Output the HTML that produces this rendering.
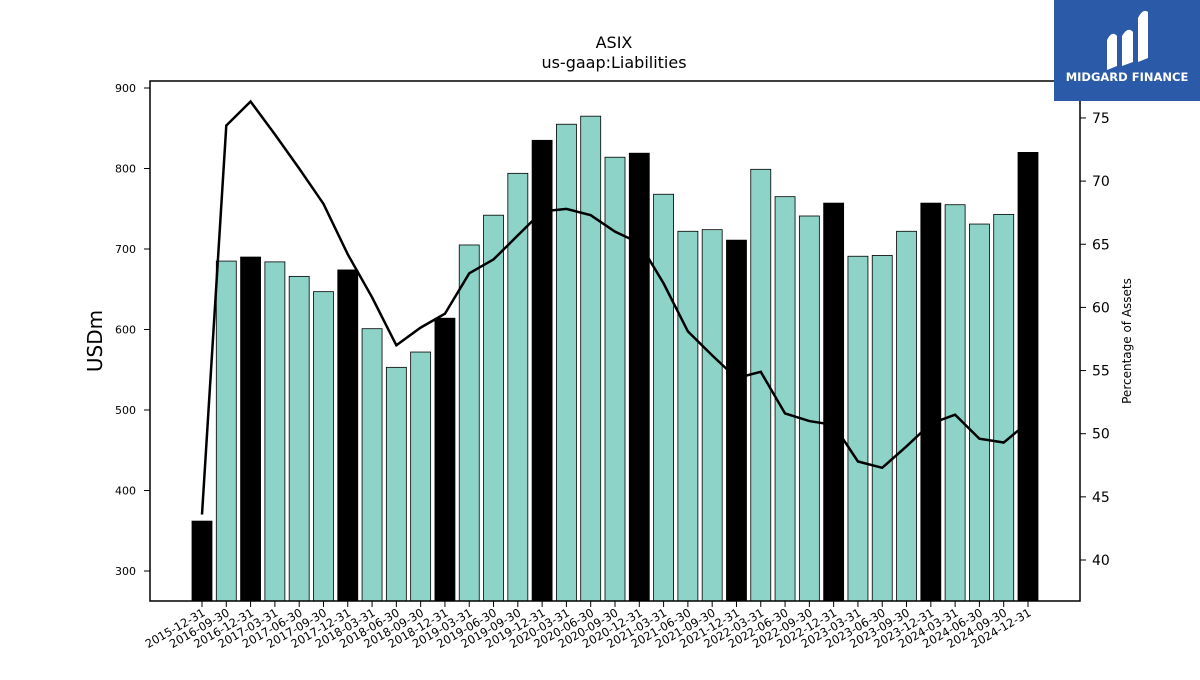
<!DOCTYPE html>
<html><head><meta charset="utf-8"><style>
body{margin:0;background:#fff;font-family:"Liberation Sans","DejaVu Sans",sans-serif}
</style></head><body>
<svg id="chart" width="1200" height="675" xmlns="http://www.w3.org/2000/svg" font-family="DejaVu Sans, Liberation Sans, sans-serif">
<text x="614" y="48" font-size="16" text-anchor="middle">ASIX</text>
<text x="614" y="68" font-size="16" text-anchor="middle">us-gaap:Liabilities</text>
<g id="bars"></g>
<g id="line"></g>
<rect x="150" y="81" width="930" height="520" fill="none" stroke="#000" stroke-width="1.5"/>
<g id="laxis"></g>
<g id="raxis"></g>
<g id="xaxis"></g>
<text transform="translate(102,341) rotate(-90)" font-size="20" text-anchor="middle">USDm</text>
<text transform="translate(1131,341) rotate(-90)" font-size="12" text-anchor="middle">Percentage of Assets</text>
<g>
<rect x="1054" y="0" width="146" height="101" fill="#2b5aa8"/>
<path d="M1107 70 L1107 40 Q1112 30 1117 36 L1117 66 Z M1122 66 L1122 36 Q1128 26 1133 32 L1133 62 Z M1138 62 L1138 18 Q1143 8 1148 12 L1148 58 Z" fill="#fff"/>
<text x="1127" y="81" font-size="11.5" font-weight="bold" fill="#fff" text-anchor="middle">MIDGARD FINANCE</text>
</g>
</svg>
<script>
const dates=["2015-12-31","2016-09-30","2016-12-31","2017-03-31","2017-06-30","2017-09-30","2017-12-31","2018-03-31","2018-06-30","2018-09-30","2018-12-31","2019-03-31","2019-06-30","2019-09-30","2019-12-31","2020-03-31","2020-06-30","2020-09-30","2020-12-31","2021-03-31","2021-06-30","2021-09-30","2021-12-31","2022-03-31","2022-06-30","2022-09-30","2022-12-31","2023-03-31","2023-06-30","2023-09-30","2023-12-31","2024-03-31","2024-06-30","2024-09-30","2024-12-31"];
const liabilities=[362,685,690,684,666,647,674,601,553,572,614,705,742,794,835,855,865,814,819,768,722,724,711,799,765,741,757,691,692,722,757,755,731,743,820];
const pctAssets=[43.6,74.4,76.3,73.7,71.0,68.2,64.2,60.8,57.0,58.4,59.5,62.7,63.8,65.7,67.6,67.8,67.3,66.0,65.1,61.9,58.1,56.2,54.4,54.9,51.6,51.0,50.7,47.8,47.3,49.0,50.8,51.5,49.6,49.3,50.9];
const leftTicks=[300,400,500,600,700,800,900];
const rightTicks=[40,45,50,55,60,65,70,75];
const NS="http://www.w3.org/2000/svg";
const yL=v=>571-(v-300)*0.805;
const yR=p=>560-(p-40)*12.63;
const xB=i=>202+i*(1028-202)/34;
function mk(t,a,p){const e=document.createElementNS(NS,t);for(const k in a)e.setAttribute(k,a[k]);p.appendChild(e);return e;}
const bars=document.getElementById('bars');
liabilities.forEach((v,i)=>{const black=dates[i].endsWith('12-31');
const r=mk('rect',{x:xB(i)-10,y:yL(v),width:20,height:601-yL(v),fill:black?'#000':'#8dd3c7',stroke:'#000','stroke-width':0.8},bars);

});
const line=document.getElementById('line');
const pl=mk('polyline',{points:pctAssets.map((p,i)=>xB(i)+','+yR(p)).join(' '),fill:'none',stroke:'#000','stroke-width':2.5},line);


const la=document.getElementById('laxis');
leftTicks.forEach(v=>{mk('line',{x1:144,x2:150,y1:yL(v),y2:yL(v),stroke:'#000'},la);
const t=mk('text',{x:136,y:yL(v)+4,'font-size':11,'text-anchor':'end'},la);t.textContent=v;

});
const ra=document.getElementById('raxis');
rightTicks.forEach(v=>{mk('line',{x1:1080,x2:1086,y1:yR(v),y2:yR(v),stroke:'#000'},ra);
const t=mk('text',{x:1092,y:yR(v)+5,'font-size':14},ra);t.textContent=v;

});
const xa=document.getElementById('xaxis');
dates.forEach((d,i)=>{const x=xB(i);mk('line',{x1:x,x2:x,y1:601,y2:607,stroke:'#000'},xa);
const t=mk('text',{transform:`translate(${x+4},${615}) rotate(-30)`,'font-size':11.5,'text-anchor':'end'},xa);t.textContent=d;

});
</script>
</body></html>
